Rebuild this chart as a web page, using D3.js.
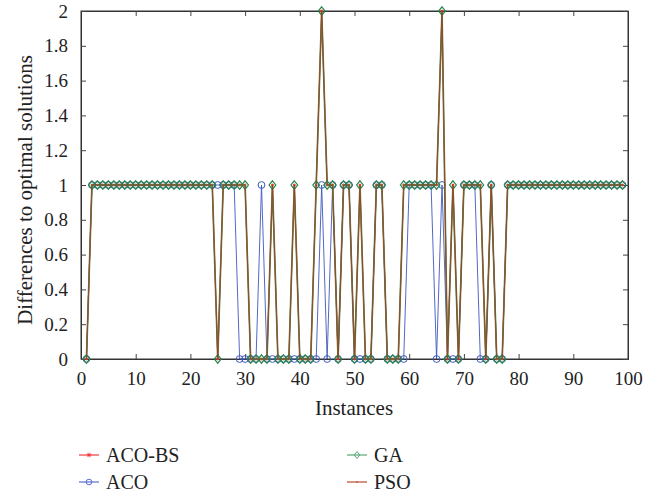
<!DOCTYPE html>
<html>
<head>
<meta charset="utf-8">
<script src="https://cdn.jsdelivr.net/npm/d3@7"></script>
<style>
  body { margin: 0; background: #fff; }
  text { font-family: "Liberation Serif", "DejaVu Serif", serif; fill: #222; }
</style>
</head>
<body>
<div id="chart"></div>
<script>
// instance numbers 1..99
const instances = [
  1,2,3,4,5,6,7,8,9,10,11,12,13,14,15,16,17,18,19,20,
  21,22,23,24,25,26,27,28,29,30,31,32,33,34,35,36,37,38,39,40,
  41,42,43,44,45,46,47,48,49,50,51,52,53,54,55,56,57,58,59,60,
  61,62,63,64,65,66,67,68,69,70,71,72,73,74,75,76,77,78,79,80,
  81,82,83,84,85,86,87,88,89,90,91,92,93,94,95,96,97,98,99
];

const acoBS = [
  0,1,1,1,1,1,1,1,1,1, 1,1,1,1,1,1,1,1,1,1,
  1,1,1,1,0,1,1,1,1,1, 0,0,0,0,1,0,0,0,1,0,
  0,0,1,2,1,1,0,1,1,0, 1,0,0,1,1,0,0,0,1,1,
  1,1,1,1,1,2,0,1,0,1, 1,1,1,0,1,0,0,1,1,1,
  1,1,1,1,1,1,1,1,1,1, 1,1,1,1,1,1,1,1,1
];

const aco = [
  0,1,1,1,1,1,1,1,1,1, 1,1,1,1,1,1,1,1,1,1,
  1,1,1,1,1,1,1,1,0,0, 0,0,1,0,0,0,0,0,0,0,
  0,0,0,1,0,1,0,1,1,0, 0,0,0,1,1,0,0,0,0,1,
  1,1,1,1,0,1,0,0,0,1, 1,1,0,0,1,0,0,1,1,1,
  1,1,1,1,1,1,1,1,1,1, 1,1,1,1,1,1,1,1,1
];

const ga = [
  0,1,1,1,1,1,1,1,1,1, 1,1,1,1,1,1,1,1,1,1,
  1,1,1,1,0,1,1,1,1,1, 0,0,0,0,1,0,0,0,1,0,
  0,0,1,2,1,1,0,1,1,0, 1,0,0,1,1,0,0,0,1,1,
  1,1,1,1,1,2,0,1,0,1, 1,1,1,0,1,0,0,1,1,1,
  1,1,1,1,1,1,1,1,1,1, 1,1,1,1,1,1,1,1,1
];

const pso = [
  0,1,1,1,1,1,1,1,1,1, 1,1,1,1,1,1,1,1,1,1,
  1,1,1,1,0,1,1,1,1,1, 0,0,0,0,1,0,0,0,1,0,
  0,0,1,2,1,1,0,1,1,0, 1,0,0,1,1,0,0,0,1,1,
  1,1,1,1,1,2,0,1,0,1, 1,1,1,0,1,0,0,1,1,1,
  1,1,1,1,1,1,1,1,1,1, 1,1,1,1,1,1,1,1,1
];

const xTicks = [0,10,20,30,40,50,60,70,80,90,100];
const yTicks = [0,0.2,0.4,0.6,0.8,1,1.2,1.4,1.6,1.8,2];
const seriesNames = ["ACO-BS", "ACO", "GA", "PSO"];

const width = 657, height = 492;

const svg = d3.select("#chart").append("svg")
  .attr("width", width)
  .attr("height", height);

const x = d3.scaleLinear().domain([0, 100]).range([81, 628]);
const y = d3.scaleLinear().domain([0, 2]).range([359, 11]);

// frame
svg.append("rect")
  .attr("x", x(0)).attr("y", y(2))
  .attr("width", x(100) - x(0)).attr("height", y(0) - y(2))
  .attr("fill", "none").attr("stroke", "#333").attr("stroke-width", 1);

// axes, ticks pointing inward
svg.append("g")
  .attr("transform", `translate(0,${y(0)})`)
  .call(d3.axisBottom(x).tickValues(xTicks).tickSize(-5).tickPadding(13).tickFormat(d3.format("d")));
svg.append("g")
  .attr("transform", `translate(0,${y(2)})`)
  .call(d3.axisTop(x).tickValues(xTicks).tickSize(-5).tickFormat(""));
svg.append("g")
  .attr("transform", `translate(${x(0)},0)`)
  .call(d3.axisLeft(y).tickValues(yTicks).tickSize(-5).tickPadding(13).tickFormat(d => String(+d.toFixed(1))));
svg.append("g")
  .attr("transform", `translate(${x(100)},0)`)
  .call(d3.axisRight(y).tickValues(yTicks).tickSize(-5).tickFormat(""));

svg.selectAll(".domain").attr("stroke", "#333");
svg.selectAll(".tick line").attr("stroke", "#444");
svg.selectAll(".tick text").attr("font-size", 19)
  .attr("font-family", "Liberation Serif, DejaVu Serif, serif").attr("fill", "#222");

// axis titles
svg.append("text")
  .attr("x", 354).attr("y", 415)
  .attr("text-anchor", "middle").attr("font-size", 21)
  .text("Instances");
svg.append("text")
  .attr("transform", "translate(32,190) rotate(-90)")
  .attr("text-anchor", "middle").attr("font-size", 21)
  .text("Differences to optimal solutions");

const colors = {
  "ACO-BS": "#ff2a2a",
  "ACO": "#3f58c0",
  "GA": "#23854a",
  "PSO": "#a33c1c"
};

const line = d3.line().x((d, i) => x(instances[i])).y(d => y(d));

function asterisk(g, cx, cy, r, color) {
  [[-r, 0, r, 0], [0, -r, 0, r], [-r * 0.7, -r * 0.7, r * 0.7, r * 0.7], [-r * 0.7, r * 0.7, r * 0.7, -r * 0.7]]
    .forEach(s => g.append("line")
      .attr("x1", cx + s[0]).attr("y1", cy + s[1])
      .attr("x2", cx + s[2]).attr("y2", cy + s[3])
      .attr("stroke", color).attr("stroke-width", 1));
}
function diamond(cx, cy, r) {
  return `M${cx},${cy - r}L${cx + r * 0.8},${cy}L${cx},${cy + r}L${cx - r * 0.8},${cy}Z`;
}

const plot = svg.append("g");

// ACO-BS
plot.append("path").datum(acoBS).attr("d", line)
  .attr("fill", "none").attr("stroke", colors["ACO-BS"]).attr("stroke-width", 1);
const gBS = plot.append("g");
acoBS.forEach((v, i) => asterisk(gBS, x(instances[i]), y(v), 1.4, colors["ACO-BS"]));

// ACO
plot.append("path").datum(aco).attr("d", line)
  .attr("fill", "none").attr("stroke", colors["ACO"]).attr("stroke-width", 1).attr("stroke-opacity", 0.9);
plot.append("g").selectAll("circle").data(aco).join("circle")
  .attr("cx", (d, i) => x(instances[i])).attr("cy", d => y(d)).attr("r", 3.4)
  .attr("fill", "none").attr("stroke", colors["ACO"]).attr("stroke-width", 1);

// GA
plot.append("path").datum(ga).attr("d", line)
  .attr("fill", "none").attr("stroke", "#5a8450").attr("stroke-width", 1.7);
plot.append("g").selectAll("path").data(ga).join("path")
  .attr("d", (d, i) => diamond(x(instances[i]), y(d), 4.2))
  .attr("fill", "none").attr("stroke", colors["GA"]).attr("stroke-width", 1.2);

// PSO
plot.append("path").datum(pso).attr("d", line)
  .attr("fill", "none").attr("stroke", colors["PSO"]).attr("stroke-width", 1).attr("stroke-opacity", 0.8);

// legend
const legendItems = [
  { name: seriesNames[0], lx: 79, ly: 455 },
  { name: seriesNames[1], lx: 79, ly: 482 },
  { name: seriesNames[2], lx: 347, ly: 455 },
  { name: seriesNames[3], lx: 347, ly: 482 }
];
const legendLine = { "ACO-BS": "#f43b3b", "ACO": "#5a6fcf", "GA": "#5aa874", "PSO": "#b84a2a" };
const legend = svg.append("g");
legendItems.forEach(it => {
  const c = legendLine[it.name];
  legend.append("line")
    .attr("x1", it.lx).attr("x2", it.lx + 20).attr("y1", it.ly).attr("y2", it.ly)
    .attr("stroke", c).attr("stroke-width", 1.2);
  const mx = it.lx + 10;
  if (it.name === "ACO-BS") asterisk(legend, mx, it.ly, 2.2, c);
  if (it.name === "ACO") legend.append("circle").attr("cx", mx).attr("cy", it.ly).attr("r", 2.8)
    .attr("fill", "none").attr("stroke", c);
  if (it.name === "GA") legend.append("path").attr("d", diamond(mx, it.ly, 3.5))
    .attr("fill", "none").attr("stroke", c);
  if (it.name === "PSO") legend.append("circle").attr("cx", mx).attr("cy", it.ly).attr("r", 0.8).attr("fill", c);
  legend.append("text")
    .attr("x", it.lx + 27).attr("y", it.ly + 7)
    .attr("font-size", 20)
    .text(it.name);
});
</script>
</body>
</html>
